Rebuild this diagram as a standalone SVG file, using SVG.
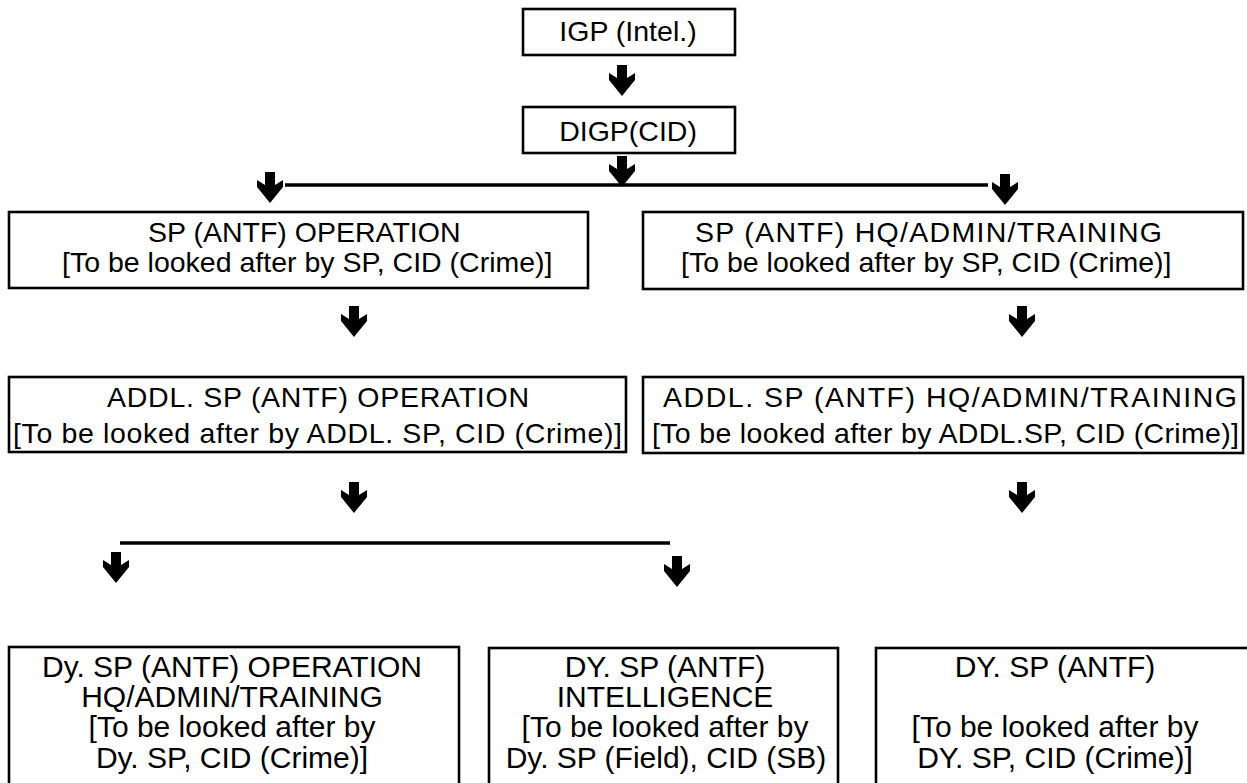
<svg xmlns="http://www.w3.org/2000/svg" xmlns:xlink="http://www.w3.org/1999/xlink" width="1247" height="783" viewBox="0 0 1247 783">
<style>
.box{fill:#fff;stroke:#000;stroke-width:2.6}
.t{font-family:"Liberation Sans",Arial,sans-serif;font-size:28.5px;fill:#000}
.c{text-anchor:middle}
.b{font-size:30px}
.ln{stroke:#000;stroke-width:3.4;fill:none}
</style>
<defs>
<path id="arr" d="M-5,0 H5 V13 L13,8 V15 L0,31 L-13,15 V8 L-5,13 Z" fill="#000"/>
</defs>
<rect width="1247" height="783" fill="#fff"/>
<g id="connectors">
<use xlink:href="#arr" x="622" y="65"/>
<use xlink:href="#arr" x="622" y="156"/>
<line class="ln" x1="285" y1="185" x2="988" y2="185"/>
<use xlink:href="#arr" x="270" y="172"/>
<use xlink:href="#arr" x="1005" y="174"/>
<use xlink:href="#arr" x="354" y="306"/>
<use xlink:href="#arr" x="1022" y="306"/>
<use xlink:href="#arr" x="354" y="482"/>
<use xlink:href="#arr" x="1022" y="482"/>
<line class="ln" x1="120" y1="543" x2="670" y2="543"/>
<use xlink:href="#arr" x="116" y="552"/>
<use xlink:href="#arr" x="677" y="556"/>
</g>
<g id="n-igp">
<rect class="box" x="523" y="9" width="212" height="46"/>
<text class="t c" x="628" y="41">IGP (Intel.)</text>
</g>
<g id="n-digp">
<rect class="box" x="523" y="107" width="212" height="46"/>
<text class="t c" x="628" y="141">DIGP(CID)</text>
</g>
<g id="n-sp-op">
<rect class="box" x="9" y="212" width="579" height="76"/>
<text class="t" x="148" y="242">SP (ANTF) OPERATION</text>
<text class="t" x="62" y="272">[To be looked after by SP, CID (Crime)]</text>
</g>
<g id="n-sp-hq">
<rect class="box" x="643" y="212" width="600" height="77"/>
<text class="t" x="695" y="242" textLength="467" lengthAdjust="spacing">SP (ANTF) HQ/ADMIN/TRAINING</text>
<text class="t" x="681" y="272">[To be looked after by SP, CID (Crime)]</text>
</g>
<g id="n-addl-op">
<rect class="box" x="9" y="377" width="617" height="75"/>
<text class="t" x="107" y="407" textLength="422" lengthAdjust="spacing">ADDL. SP (ANTF) OPERATION</text>
<text class="t" x="13" y="443" textLength="609" lengthAdjust="spacing">[To be looked after by ADDL. SP, CID (Crime)]</text>
</g>
<g id="n-addl-hq">
<rect class="box" x="643" y="377" width="600" height="76"/>
<text class="t" x="663" y="407" textLength="574" lengthAdjust="spacing">ADDL. SP (ANTF) HQ/ADMIN/TRAINING</text>
<text class="t" x="652" y="443" textLength="587" lengthAdjust="spacing">[To be looked after by ADDL.SP, CID (Crime)]</text>
</g>
<g id="n-dysp-op">
<rect class="box" x="9" y="647" width="450" height="160"/>
<text class="t b c" x="232" y="677">Dy. SP (ANTF) OPERATION</text>
<text class="t b c" x="232" y="707">HQ/ADMIN/TRAINING</text>
<text class="t b c" x="232" y="737">[To be looked after by</text>
<text class="t b c" x="232" y="768">Dy. SP, CID (Crime)]</text>
</g>
<g id="n-dysp-int">
<rect class="box" x="489" y="648" width="349" height="160"/>
<text class="t b c" x="665" y="677">DY. SP (ANTF)</text>
<text class="t b c" x="665" y="707">INTELLIGENCE</text>
<text class="t b c" x="665" y="737">[To be looked after by</text>
<text class="t b c" x="666" y="768">Dy. SP (Field), CID (SB)</text>
</g>
<g id="n-dysp-3">
<rect class="box" x="876" y="648" width="380" height="160"/>
<text class="t b c" x="1055" y="677">DY. SP (ANTF)</text>
<text class="t b c" x="1055" y="737">[To be looked after by</text>
<text class="t b c" x="1055" y="768">DY. SP, CID (Crime)]</text>
</g>
</svg>
